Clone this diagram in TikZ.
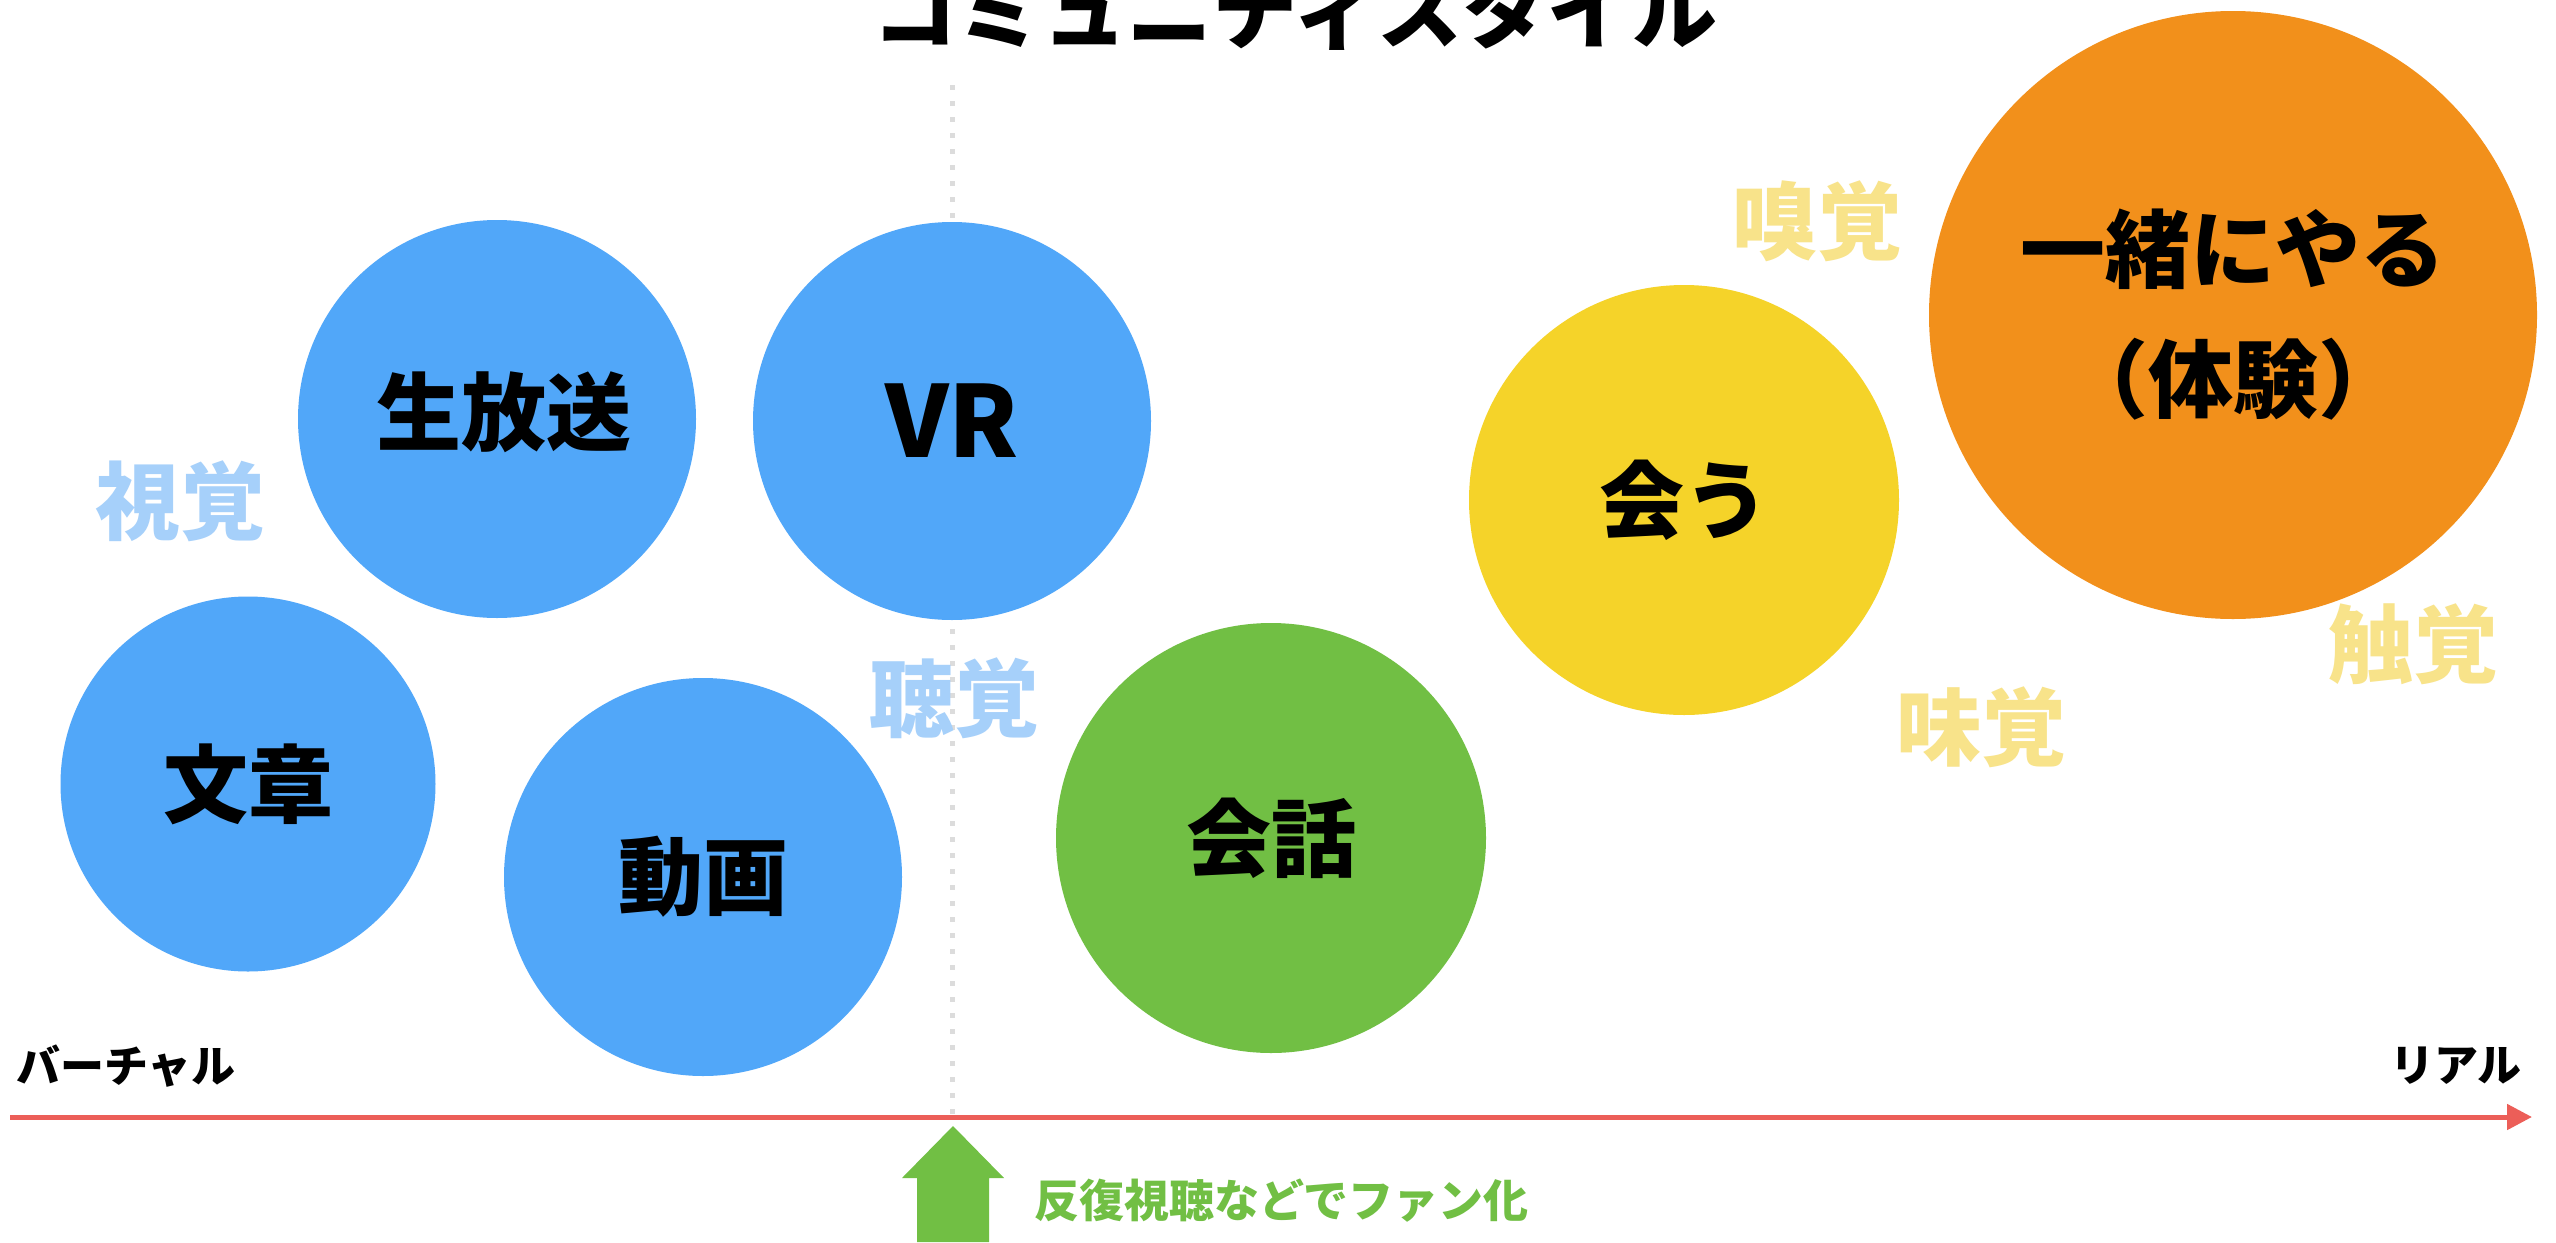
\documentclass[tikz,border=0pt]{standalone}
\usepackage{fontspec}
\setmainfont{Noto Sans CJK JP}
\usetikzlibrary{arrows.meta}
\definecolor{cblue}{HTML}{51A7F9}
\definecolor{cgreen}{HTML}{71BF44}
\definecolor{cyellow}{HTML}{F5D329}
\definecolor{corange}{HTML}{F2901B}
\definecolor{lblue}{HTML}{A6D0FA}
\definecolor{lyellow}{HTML}{F8E38A}
\definecolor{axisred}{HTML}{EC5E58}
\definecolor{dotgray}{HTML}{DCDCDC}
\begin{document}
\begin{tikzpicture}[x=1pt,y=-1pt,
  bubble/.style={circle, inner sep=0pt, text=black, align=center,
    font=\fontsize{85}{130}\selectfont\bfseries},
  bubbletext/.style={inner sep=0pt, text=black,
    font=\fontsize{85}{130}\selectfont\bfseries},
  sense/.style={inner sep=0pt, font=\fontsize{85}{100}\selectfont\bfseries},
  axislabel/.style={inner sep=0pt, font=\fontsize{44}{50}\selectfont\bfseries},
  ]
\useasboundingbox (0,0) rectangle (2556,1242);
\clip (0,0) rectangle (2556,1242);
\fill[white] (0,0) rectangle (2556,1242);

% dotted divider
\coordinate (dtop) at (952,85);
\coordinate (dbot) at (952,1114);
\draw[dotgray, line width=5pt, dash pattern=on 5pt off 11pt] (dtop) -- (dbot);

% title
\node[inner sep=0pt, font=\fontsize{85}{100}\selectfont\bfseries] (title) at (1295,10) {コミュニティスタイル};

% bubbles
\node[bubble, fill=cblue, minimum size=375pt] (bunsho) at (248,784) {文章};
\node[bubble, fill=cblue, minimum size=398pt] (nama) at (497,419) {};
\node[bubbletext] (namatext) at (504,412) {生放送};
\node[bubble, fill=cblue, minimum size=398pt, font=\fontsize{99}{110}\selectfont\bfseries] (vr) at (952,421) {VR};
\node[bubble, fill=cblue, minimum size=398pt] (douga) at (703,877) {動画};
\node[bubble, fill=cgreen, minimum size=430pt] (kaiwa) at (1271,838) {会話};
\node[bubble, fill=cyellow, minimum size=430pt] (au) at (1684,500) {会う};
\node[bubble, fill=corange, minimum size=608pt] (issho) at (2233,315) {一緒にやる\\（体験）};

% senses
\node[sense, text=lblue] (shikaku) at (180,501) {視覚};
\node[sense, text=lblue] (choukaku) at (954,698) {聴覚};
\node[sense, text=lyellow] (kyuukaku) at (1817,221) {嗅覚};
\node[sense, text=lyellow] (mikaku) at (1981,727) {味覚};
\node[sense, text=lyellow] (shokkaku) at (2413,644) {触覚};

% axis
\coordinate (axL) at (10,1117);
\coordinate (axR) at (2532,1117);
\draw[axisred, line width=5pt, -{Triangle[length=25pt,width=25pt]}] (axL) -- (axR);
\node[axislabel, anchor=west] (virtual) at (16,1066) {バーチャル};
\node[axislabel, anchor=east] (real) at (2522,1066) {リアル};

% green arrow
\fill[cgreen] (917,1242) -- (917,1178) -- (902,1178) -- (953,1126) -- (1004,1178) -- (989,1178) -- (989,1242) -- cycle;
\node[anchor=west, inner sep=0pt, text=cgreen, font=\fontsize{45}{50}\selectfont\bfseries] (fan) at (1034,1201) {反復視聴などでファン化};
\end{tikzpicture}
\end{document}
